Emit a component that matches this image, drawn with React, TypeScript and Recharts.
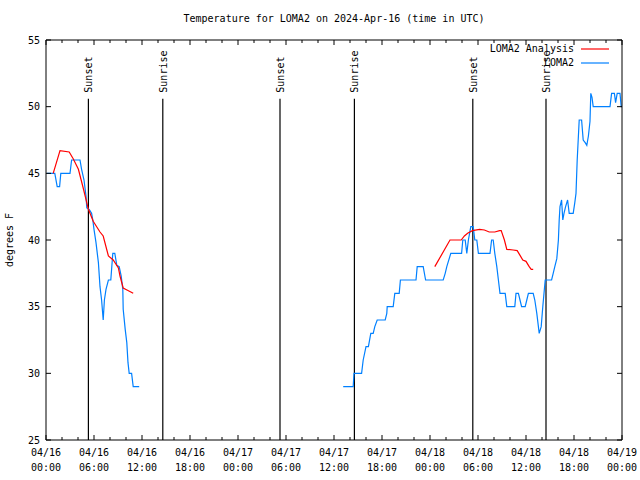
import React from 'react';
import { ComposedChart, Line, XAxis, YAxis, ReferenceLine } from 'recharts';

// hours since 2024-04-16 00:00 UTC
const obsHours1 = [0.1, 1.1, 1.4, 1.7, 1.85, 3.0, 3.2, 4.25, 4.45, 4.75, 5.0, 5.1, 5.4, 5.7, 5.85, 6.0, 6.25, 6.55, 6.75, 6.95, 7.15, 7.3, 7.5, 7.8, 8.1, 8.35, 8.6, 8.85, 9.15, 9.4, 9.6, 9.65, 9.9, 10.1, 10.25, 10.4, 10.7, 10.9, 11.65];
const obsTemps1 = [45, 45, 44, 44, 45, 45, 46, 46, 45.3, 44.5, 43.3, 42.4, 42.3, 42, 41.5, 40.8, 39.8, 38.3, 36.5, 35.5, 34, 35.5, 36.3, 37, 37, 39, 39, 38.1, 38, 37.3, 36.3, 34.8, 33.3, 32.3, 30.8, 30, 30, 29, 29];
const obsHours2 = [37.15, 38.4, 38.5, 39.45, 39.65, 40.0, 40.3, 40.6, 40.9, 41.1, 41.4, 42.4, 42.6, 42.65, 43.4, 43.6, 44.15, 44.3, 46.25, 46.4, 47.15, 47.45, 49.65, 49.9, 50.1, 50.6, 51.95, 52.1, 52.4, 52.6, 52.8, 53.1, 53.4, 53.6, 53.85, 54.05, 55.5, 55.7, 55.9, 56.1, 56.35, 56.55, 56.75, 57.4, 57.6, 58.6, 58.75, 59.05, 59.25, 59.45, 59.9, 60.1, 60.3, 60.9, 61.1, 61.35, 61.55, 61.65, 61.9, 62.1, 62.4, 63.2, 63.4, 63.6, 63.85, 64.05, 64.15, 64.25, 64.45, 64.6, 64.75, 64.95, 65.2, 65.4, 65.9, 66.1, 66.25, 66.4, 66.65, 66.95, 67.15, 67.4, 67.6, 67.8, 68.0, 68.1, 68.25, 68.4, 70.5, 70.7, 71.05, 71.2, 71.4, 71.75, 71.9, 72];
const obsTemps2 = [29, 29, 30, 30, 31, 32, 32, 33, 33, 33.5, 34, 34, 34.5, 35, 35, 36, 36, 37, 37, 38, 38, 37, 37, 37.5, 38, 39, 39, 40, 40, 39, 40, 41, 41, 40, 40, 39, 39, 40, 40, 39, 38, 37, 36, 36, 35, 35, 36, 36, 35.5, 35, 35, 35.5, 36, 36, 35.5, 34.5, 33.5, 33, 33.5, 35, 37, 37, 37.5, 38, 38.6, 40, 41.5, 42.5, 43, 41.5, 42, 42.5, 43, 42, 42, 42.8, 43.5, 46, 49, 49, 47.5, 47.3, 47.1, 47.8, 48.9, 51, 50.7, 50, 50, 51, 51, 50.3, 51, 51, 50, 50];

const anlHours1 = [0.9, 1.75, 2.9, 3.4, 4.05, 4.65, 5.3, 5.9, 6.75, 7.15, 7.8, 8.4, 9.05, 9.25, 9.65, 10.3, 10.9];
const anlTemps1 = [45.0, 46.7, 46.6, 46.1, 45.3, 43.9, 42.3, 41.4, 40.6, 40.3, 38.8, 38.5, 37.9, 37.3, 36.4, 36.2, 36.0];
const anlHours2 = [48.6, 50.5, 51.9, 52.3, 52.7, 53.3, 54.2, 54.8, 55.4, 56.1, 56.7, 56.9, 57.3, 57.6, 58.4, 58.9, 59.2, 59.6, 60.0, 60.4, 60.65, 60.9];
const anlTemps2 = [38.0, 40.0, 40.0, 40.3, 40.5, 40.7, 40.8, 40.75, 40.6, 40.6, 40.7, 40.7, 40.0, 39.3, 39.25, 39.2, 38.9, 38.5, 38.4, 38.0, 37.8, 37.8];

const sunHours = [5.3, 14.6, 29.25, 38.55, 53.35, 62.5];
const sunLabels = ['Sunset', 'Sunrise', 'Sunset', 'Sunrise', 'Sunset', 'Sunrise'];

const xTicks = Array.from({ length: 37 }, (_, i) => i * 2);
const yTicks = [25, 30, 35, 40, 45, 50, 55];

const FONT = '"DejaVu Sans Mono", monospace';
const RED = '#ff0000';
const BLUE = '#0080ff';

const toSeries = (h1: number[], v1: number[], h2: number[], v2: number[]) => [
  ...h1.map((h, i) => ({ h, v: v1[i] })),
  { h: (h1[h1.length - 1] + h2[0]) / 2, v: null },
  ...h2.map((h, i) => ({ h, v: v2[i] })),
];

const obsData = toSeries(obsHours1, obsTemps1, obsHours2, obsTemps2);
const anlData = toSeries(anlHours1, anlTemps1, anlHours2, anlTemps2);

const fmtDay = (h: number) => `04/${16 + Math.floor(h / 24)}`;
const fmtTime = (h: number) => `${String(h % 24).padStart(2, '0')}:00`;

const BottomTick = (p: any) => {
  const h = p.payload.value;
  const major = h % 6 === 0;
  return (
    <g>
      <line x1={p.x} y1={p.y} x2={p.x} y2={p.y - (major ? 5 : 3)} stroke="#000" />
      {major && (
        <text x={p.x} y={p.y} textAnchor="middle" fontFamily={FONT} fontSize={10} fill="#000">
          <tspan x={p.x} dy={16}>{fmtDay(h)}</tspan>
          <tspan x={p.x} dy={15}>{fmtTime(h)}</tspan>
        </text>
      )}
    </g>
  );
};

const TopTick = (p: any) => {
  const major = p.payload.value % 6 === 0;
  return <line x1={p.x} y1={p.y} x2={p.x} y2={p.y + (major ? 5 : 3)} stroke="#000" />;
};

const LeftTick = (p: any) => (
  <g>
    <line x1={p.x} y1={p.y} x2={p.x + 5} y2={p.y} stroke="#000" />
    <text x={p.x - 6} y={p.y} dy={3.5} textAnchor="end" fontFamily={FONT} fontSize={10} fill="#000">
      {p.payload.value}
    </text>
  </g>
);

const RightTick = (p: any) => <line x1={p.x} y1={p.y} x2={p.x - 5} y2={p.y} stroke="#000" />;

const SunLabel = (text: string) => (props: any) => {
  const { x, y } = props.viewBox;
  return (
    <text
      x={x + 4}
      y={y - 6}
      transform={`rotate(-90 ${x + 4} ${y - 6})`}
      textAnchor="start"
      fontFamily={FONT}
      fontSize={10}
      fill="#000"
    >
      {text}
    </text>
  );
};

const YLabel = (props: any) => {
  const { x, y, height } = props.viewBox;
  const cx = x + 13;
  const cy = y + height / 2;
  return (
    <text x={cx} y={cy} transform={`rotate(-90 ${cx} ${cy})`} textAnchor="middle" fontFamily={FONT} fontSize={10} fill="#000">
      degrees F
    </text>
  );
};

const legendRows = [
  { name: 'LOMA2 Analysis', color: RED, top: 43 },
  { name: 'LOMA2', color: BLUE, top: 57 },
];

export default function App() {
  return (
    <div style={{ position: 'absolute', left: 0, top: 0, width: 640, height: 480, background: '#fff' }}>
      <div
        style={{
          position: 'absolute',
          left: 46,
          width: 576,
          top: 12,
          textAlign: 'center',
          fontFamily: FONT,
          fontSize: 10,
          lineHeight: '14px',
        }}
      >
        Temperature for LOMA2 on 2024-Apr-16 (time in UTC)
      </div>
      <ComposedChart width={640} height={480} margin={{ top: 39, right: 17, bottom: 0, left: 0 }}>
        <XAxis
          xAxisId="x"
          type="number"
          dataKey="h"
          domain={[0, 72]}
          ticks={xTicks}
          interval={0}
          allowDataOverflow
          height={40}
          tickSize={0}
          tickMargin={0}
          tickLine={false}
          axisLine={{ stroke: '#000' }}
          tick={(p: any) => <BottomTick {...p} />}
        />
        <XAxis
          xAxisId="xt"
          orientation="top"
          type="number"
          dataKey="h"
          domain={[0, 72]}
          ticks={xTicks}
          interval={0}
          allowDataOverflow
          height={1}
          tickSize={0}
          tickMargin={0}
          tickLine={false}
          axisLine={{ stroke: '#000' }}
          tick={(p: any) => <TopTick {...p} />}
        />
        <YAxis
          yAxisId="y"
          type="number"
          domain={[25, 55]}
          ticks={yTicks}
          interval={0}
          allowDataOverflow
          width={46}
          tickSize={0}
          tickMargin={0}
          tickLine={false}
          axisLine={{ stroke: '#000' }}
          tick={(p: any) => <LeftTick {...p} />}
          label={<YLabel />}
        />
        <YAxis
          yAxisId="yr"
          orientation="right"
          type="number"
          domain={[25, 55]}
          ticks={yTicks}
          interval={0}
          allowDataOverflow
          width={1}
          tickSize={0}
          tickMargin={0}
          tickLine={false}
          axisLine={{ stroke: '#000' }}
          tick={(p: any) => <RightTick {...p} />}
        />
        {sunHours.map((h, i) => (
          <ReferenceLine
            key={`sun-${i}`}
            xAxisId="x"
            yAxisId="y"
            segment={[{ x: h, y: 50.6 }, { x: h, y: 25 }]}
            stroke="#000"
            strokeWidth={1.2}
            label={SunLabel(sunLabels[i])}
          />
        ))}
        {/* hidden series so the mirrored top/right axes get drawn */}
        <Line
          xAxisId="xt"
          yAxisId="yr"
          data={anlData}
          dataKey="v"
          stroke="none"
          dot={false}
          legendType="none"
          isAnimationActive={false}
        />
        <Line
          xAxisId="x"
          yAxisId="y"
          data={obsData}
          dataKey="v"
          type="linear"
          stroke={BLUE}
          strokeWidth={1.2}
          dot={false}
          connectNulls={false}
          isAnimationActive={false}
        />
        <Line
          xAxisId="x"
          yAxisId="y"
          data={anlData}
          dataKey="v"
          type="linear"
          stroke={RED}
          strokeWidth={1.2}
          dot={false}
          connectNulls={false}
          isAnimationActive={false}
        />
      </ComposedChart>
      {legendRows.map((r) => (
        <div
          key={r.name}
          style={{ position: 'absolute', top: r.top, left: 400, width: 210, height: 12, display: 'flex', alignItems: 'center', justifyContent: 'flex-end' }}
        >
          <span style={{ fontFamily: FONT, fontSize: 10, lineHeight: '12px' }}>{r.name}</span>
          <svg width={36} height={12}>
            <line x1={7} y1={6} x2={35} y2={6} stroke={r.color} strokeWidth={1.2} />
          </svg>
        </div>
      ))}
    </div>
  );
}
